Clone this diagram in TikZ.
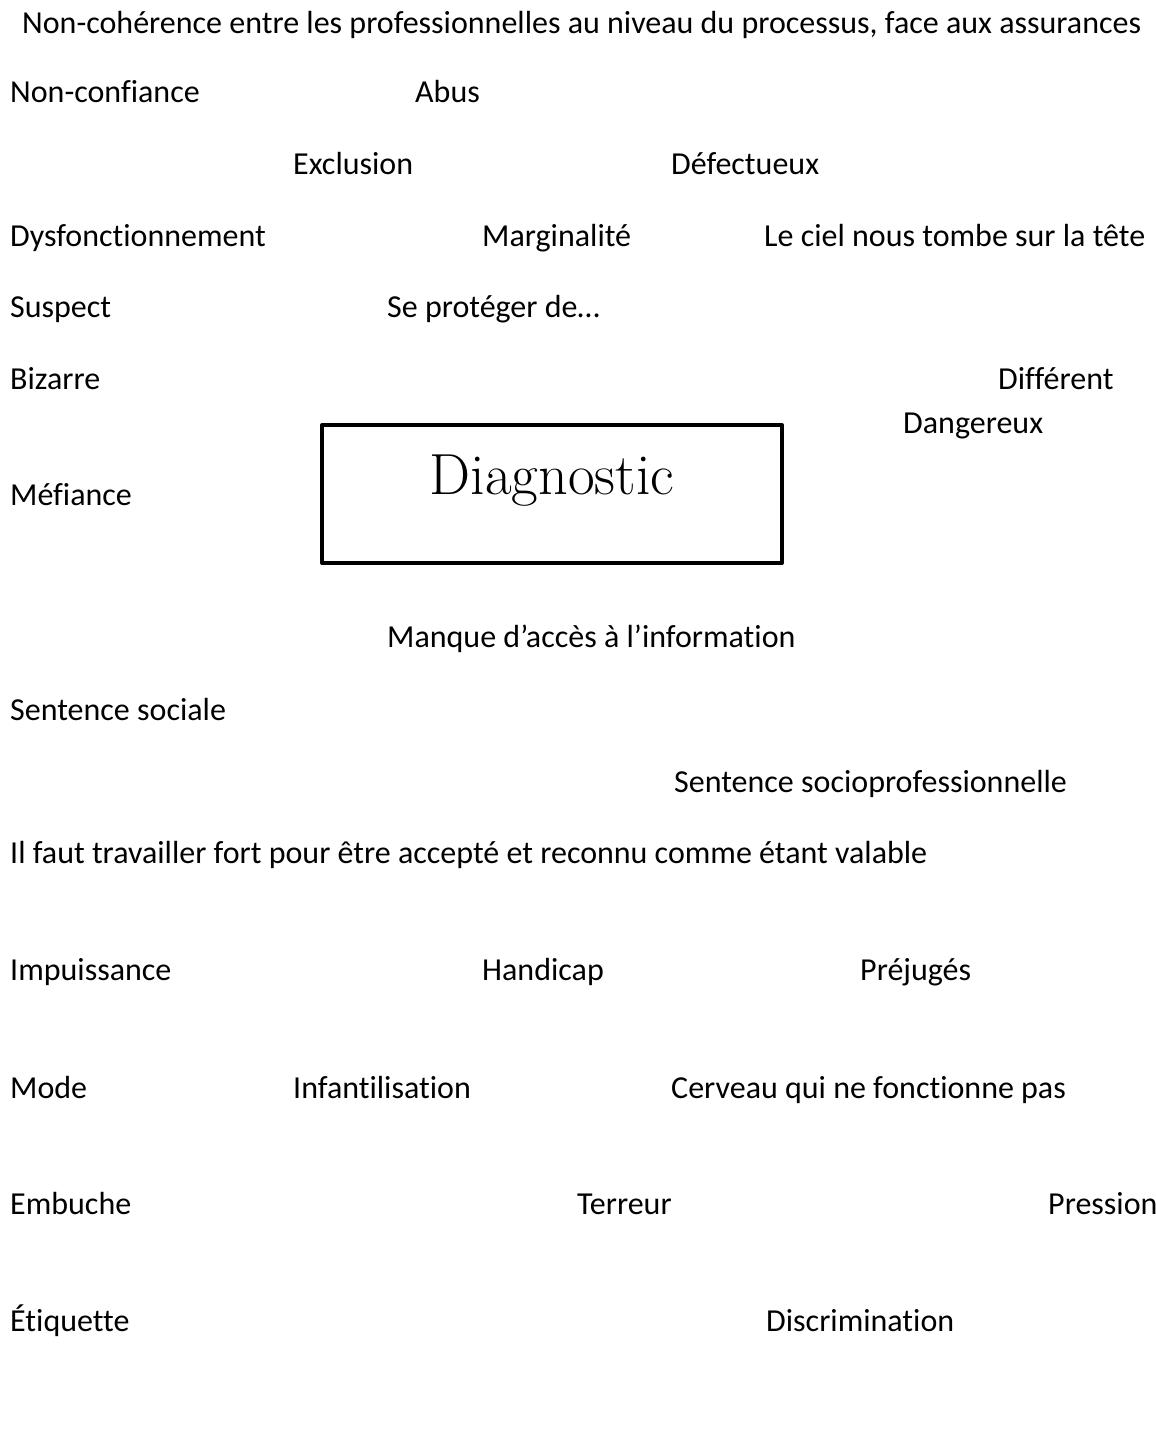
\documentclass[tikz,border=0pt]{standalone}
\usepackage{fontspec}
\setmainfont{Carlito}[Ligatures=NoCommon]
\newfontfamily\diagfont{Latin Modern Roman}
\begin{document}
\begin{tikzpicture}[x=1pt,y=-1pt,
  lbl/.style={anchor=base west,inner sep=0pt,font=\fontsize{32}{36}\selectfont},
  diagbox/.style={draw,line width=4pt,line join=round,minimum width=460pt,minimum height=138pt,inner sep=0pt}]
\useasboundingbox (0,0) rectangle (1156,1444);
\node[lbl] (t0) at (22,33) {Non-cohérence entre les professionnelles au niveau du processus, face aux assurances};
\node[lbl] (a1) at (10,102) {Non-confiance};
\node[lbl] (a2) at (415,102) {Abus};
\node[lbl] (b1) at (293,174) {Exclusion};
\node[lbl] (b2) at (671,174) {Défectueux};
\node[lbl] (c1) at (10,246) {Dysfonctionnement};
\node[lbl] (c2) at (482,246) {Marginalité};
\node[lbl] (c3) at (764,246) {Le ciel nous tombe sur la tête};
\node[lbl] (d1) at (10,317) {Suspect};
\node[lbl] (d2) at (387,317) {Se protéger de…};
\node[lbl] (e1) at (10,389) {Bizarre};
\node[lbl] (e2) at (998,389) {Différent};
\node[lbl] (e3) at (903,433) {Dangereux};
\node[lbl] (f1) at (10,505) {Méfiance};
\node[diagbox] (diag) at (552,494) {};
\node[anchor=base,inner sep=0pt,font=\diagfont\fontsize{58}{64}\selectfont] (diagt) at (552,494) {Diagnostic};
\node[lbl] (g1) at (387,647) {Manque d’accès à l’information};
\node[lbl] (h1) at (10,720) {Sentence sociale};
\node[lbl] (i1) at (674,792) {Sentence socioprofessionnelle};
\node[lbl] (j1) at (10,863) {Il faut travailler fort pour être accepté et reconnu comme étant valable};
\node[lbl] (k1) at (10,980) {Impuissance};
\node[lbl] (k2) at (482,980) {Handicap};
\node[lbl] (k3) at (860,980) {Préjugés};
\node[lbl] (l1) at (10,1098) {Mode};
\node[lbl] (l2) at (293,1098) {Infantilisation};
\node[lbl] (l3) at (671,1098) {Cerveau qui ne fonctionne pas};
\node[lbl] (m1) at (10,1214) {Embuche};
\node[lbl] (m2) at (577,1214) {Terreur};
\node[lbl] (m3) at (1048,1214) {Pression};
\node[lbl] (n1) at (10,1331) {Étiquette};
\node[lbl] (n2) at (766,1331) {Discrimination};
\end{tikzpicture}
\end{document}
